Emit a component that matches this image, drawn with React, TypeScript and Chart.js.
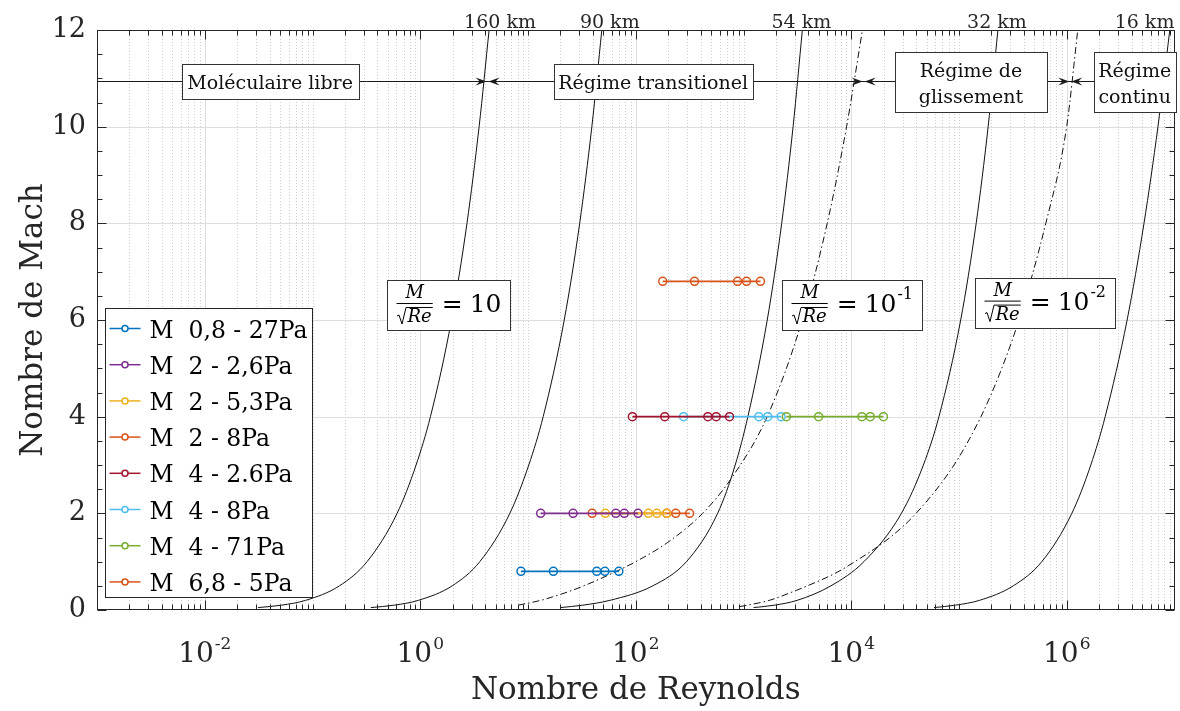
import React, { useEffect, useRef } from 'react';
import { Chart, registerables } from 'chart.js';

Chart.register(...registerables);

// ---------------- data ----------------
// Altitude curves (constant altitude): Mach levels and Reynolds numbers
const CURVE_MACH = [0.05, 0.1, 0.2, 0.5, 1, 2, 3, 4, 6, 8, 10, 12];
const RE_160KM = [0.03128, 0.05164, 0.0865, 0.1778, 0.3209, 0.6098, 0.9145, 1.243, 1.949, 2.713, 3.518, 4.355];
const RE_90KM = [0.348, 0.5743, 0.9624, 1.979, 3.571, 6.785, 10.17, 13.83, 21.69, 30.17, 39.14, 48.43];
const RE_54KM = [19.95, 32.3, 57.57, 143.9, 295.4, 575.6, 837.7, 1098, 1661, 2262, 2885, 3518];
const RE_32KM = [1240, 1945, 3149, 6475, 13110, 29220, 46710, 65150, 103700, 144300, 186400, 229700];
const RE_16KM = [58680, 92820, 155100, 318900, 586800, 1115000, 1672000, 2273000, 3633000, 5210000, 7021000, 9045000];
const ALTITUDE_LABELS = ['160 km', '90 km', '54 km', '32 km', '16 km'];
const ALTITUDE_LABEL_RE = [5.5, 57.4, 3443, 225000, 5270000];

// Dash-dot curves M/sqrt(Re) = 1e-1 and 1e-2
const RATIO_01_MACH = [0.1, 0.2, 0.27, 0.4, 0.5, 0.8, 1, 1.4, 2, 2.7, 4, 6, 8, 10, 12];
const RATIO_01_RE = [8.133, 13.16, 16.89, 25.23, 33.0, 66.14, 100, 198.3, 417.3, 758, 1658, 3511, 5984, 9049, 12700];
const RATIO_001_MACH = [0.07, 0.1, 0.2, 0.35, 0.5, 0.75, 1, 1.5, 2, 3, 4, 5, 6, 8, 10, 12];
const RATIO_001_RE = [918.3, 1089, 1741, 2667, 3914, 6960, 10800, 22870, 39980, 89880, 159800, 249600, 359400, 639100, 998000, 1265000];

// Test points
const SERIES_LABELS = ['M  0,8 - 27Pa', 'M  2 - 2,6Pa', 'M  2 - 5,3Pa', 'M  2 - 8Pa', 'M  4 - 2.6Pa', 'M  4 - 8Pa', 'M  4 - 71Pa', 'M  6,8 - 5Pa'];
const SERIES_MACH = [0.8, 2, 2, 2, 4, 4, 4, 6.8];
const RE_M08_27PA = [8.6, 17.2, 43.5, 51.7, 69.7];
const RE_M2_26PA = [13.1, 26.2, 65.3, 78.3, 105];
const RE_M2_53PA = [52.2, 131, 157, 193];
const RE_M2_8PA = [39.4, 194, 235, 316];
const RE_M4_26PA = [93.1, 186, 467, 558, 741];
const RE_M4_8PA = [278, 1387, 1679, 2234];
const RE_M4_71PA = [2500, 4980, 12560, 15000, 19900];
const RE_M68_5PA = [178, 351, 880, 1066, 1437];
const SERIES_RE = [RE_M08_27PA, RE_M2_26PA, RE_M2_53PA, RE_M2_8PA, RE_M4_26PA, RE_M4_8PA, RE_M4_71PA, RE_M68_5PA];
const SERIES_COLORS = ['#0072BD', '#7E2F8E', '#EDB120', '#D95319', '#A2142F', '#4DBEEE', '#77AC30', '#D95319'];
const SERIES_ORDER = [1, 2, 3, 4, 5, 6, 1, 1];

// Axes
const X_MIN_EXP = -3;
const X_MAX_EXP = 7;
const X_TICK_EXPONENTS = [-2, 0, 2, 4, 6];
const Y_MIN = 0;
const Y_MAX = 12;
const Y_TICK_STEP = 2;

// Annotations
const REGIME_TEXT = [['Moléculaire libre'], ['Régime transitionel'], ['Régime de', 'glissement'], ['Régime', 'continu']];
const REGIME_CENTER_RE = [0.0404, 145, 129000, 4270000];
const REGIME_LINE_MACH = 10.945;
const BOUNDARY_RE = [4.17, 12900, 1067000];
const FORMULA_EXPONENTS = ['', '-1', '-2'];
const FORMULA_LEFT_RE = [0.494, 2296, 140600];
const FORMULA_MACH = [6.31, 6.31, 6.36];

// ---------------- styles ----------------
const FONT = '"DejaVu Serif", serif';
const INK = '#262626';
const REGIME_BOX_W = [177, 199, 152, 82];
const REGIME_BOX_H = [35, 35, 60, 60];

const zip = (xs: number[], ys: number[]) => xs.map((v, i) => ({ x: v, y: ys[i] }));

function arrowHead(ctx: CanvasRenderingContext2D, tip: number, y: number, dir: number) {
  const L = 11, W = 4;
  ctx.beginPath();
  ctx.moveTo(tip, y);
  ctx.lineTo(tip - dir * L, y - W);
  ctx.lineTo(tip - dir * L * 0.62, y);
  ctx.lineTo(tip - dir * L, y + W);
  ctx.closePath();
  ctx.fill();
}

function formula(ctx: CanvasRenderingContext2D, left: number, cy: number, exp: string, draw: boolean) {
  const bar = cy - 2;
  const pad = 9;
  ctx.font = `italic 18px ${FONT}`;
  const reW = ctx.measureText('Re').width;
  const mW = ctx.measureText('M').width;
  const denW = 11 + reW + 1;
  const fx = left + pad;
  ctx.font = `25px ${FONT}`;
  const eqW = ctx.measureText('=').width;
  const tenW = ctx.measureText('10').width;
  ctx.font = `16px ${FONT}`;
  const expW = exp ? ctx.measureText(exp).width + 1 : 0;
  const total = pad + denW + 9 + eqW + 7 + tenW + expW + pad;
  if (!draw) return total;
  ctx.fillStyle = '#000';
  ctx.strokeStyle = '#000';
  ctx.font = `italic 18px ${FONT}`;
  ctx.textAlign = 'left';
  ctx.textBaseline = 'alphabetic';
  ctx.fillText('M', fx + (denW - mW) / 2, bar - 5);
  ctx.lineWidth = 1;
  ctx.beginPath();
  ctx.moveTo(fx, bar + 0.5);
  ctx.lineTo(fx + denW, bar + 0.5);
  ctx.stroke();
  ctx.beginPath();
  ctx.moveTo(fx + 0.5, bar + 13);
  ctx.lineTo(fx + 2.5, bar + 12);
  ctx.lineTo(fx + 5.5, bar + 21);
  ctx.lineTo(fx + 9.5, bar + 4.5);
  ctx.lineTo(fx + denW, bar + 4.5);
  ctx.stroke();
  ctx.fillText('Re', fx + 11, bar + 19);
  ctx.font = `25px ${FONT}`;
  let x = fx + denW + 9;
  ctx.fillText('=', x, bar + 9);
  x += eqW + 7;
  ctx.fillText('10', x, bar + 9);
  x += tenW;
  if (exp) {
    ctx.font = `16px ${FONT}`;
    ctx.fillText(exp, x + 1, bar - 4);
  }
  return total;
}

const gridPlugin = {
  id: 'bgGrid',
  beforeDatasetsDraw(chart: any) {
    const { ctx, chartArea: a, scales } = chart;
    const x = scales.x, y = scales.y;
    ctx.save();
    ctx.lineWidth = 1;
    ctx.strokeStyle = '#cdcdcd';
    ctx.setLineDash([1, 2]);
    for (let d = X_MIN_EXP; d < X_MAX_EXP; d++) {
      for (let k = 1; k <= 9; k++) {
        if (k === 1 && (d % 2 === 0 || d === X_MIN_EXP)) continue;
        const px = Math.round(x.getPixelForValue(k * Math.pow(10, d))) + 0.5;
        ctx.beginPath();
        ctx.moveTo(px, a.top);
        ctx.lineTo(px, a.bottom);
        ctx.stroke();
      }
    }
    ctx.setLineDash([]);
    ctx.strokeStyle = '#dedede';
    for (const e of X_TICK_EXPONENTS) {
      const px = Math.round(x.getPixelForValue(Math.pow(10, e))) + 0.5;
      ctx.beginPath();
      ctx.moveTo(px, a.top);
      ctx.lineTo(px, a.bottom);
      ctx.stroke();
    }
    for (let v = Y_MIN + Y_TICK_STEP; v < Y_MAX; v += Y_TICK_STEP) {
      const py = Math.round(y.getPixelForValue(v)) + 0.5;
      ctx.beginPath();
      ctx.moveTo(a.left, py);
      ctx.lineTo(a.right, py);
      ctx.stroke();
    }
    ctx.restore();
  },
};

const overlayPlugin = {
  id: 'overlay',
  afterDatasetsDraw(chart: any) {
    const { ctx, chartArea: a, scales } = chart;
    const x = scales.x, y = scales.y;
    ctx.save();

    // frame
    ctx.strokeStyle = INK;
    ctx.lineWidth = 1;
    const L = Math.round(a.left) + 0.5, R = Math.round(a.right) - 0.5;
    const T = Math.round(a.top) + 0.5, B = Math.round(a.bottom) - 0.5;
    ctx.strokeRect(L, T, R - L, B - T);

    // x ticks
    ctx.beginPath();
    for (let d = X_MIN_EXP; d < X_MAX_EXP; d++) {
      for (let k = 1; k <= 9; k++) {
        const px = Math.round(x.getPixelForValue(k * Math.pow(10, d))) + 0.5;
        const major = k === 1 && d % 2 === 0;
        const len = major ? 9 : 5;
        ctx.moveTo(px, B); ctx.lineTo(px, B - len);
        ctx.moveTo(px, T); ctx.lineTo(px, T + len);
      }
    }
    // y ticks
    for (let v = Y_MIN; v <= Y_MAX; v += 0.5) {
      const py = Math.round(y.getPixelForValue(v)) + 0.5;
      const len = v % Y_TICK_STEP === 0 ? 9 : 5;
      ctx.moveTo(L, py); ctx.lineTo(L + len, py);
      ctx.moveTo(R, py); ctx.lineTo(R - len, py);
    }
    ctx.stroke();

    // x tick labels 10^n
    ctx.fillStyle = INK;
    ctx.textBaseline = 'alphabetic';
    ctx.textAlign = 'left';
    for (const e of X_TICK_EXPONENTS) {
      const px = x.getPixelForValue(Math.pow(10, e));
      ctx.font = `28px ${FONT}`;
      const bw = ctx.measureText('10').width;
      ctx.font = `17px ${FONT}`;
      const es = String(e);
      const ew = ctx.measureText(es).width;
      const start = px - (bw + ew + 1) / 2;
      ctx.font = `28px ${FONT}`;
      ctx.fillText('10', start, a.bottom + 52);
      ctx.font = `17px ${FONT}`;
      ctx.fillText(es, start + bw + 1, a.bottom + 39);
    }

    // altitude labels
    ctx.font = `19px ${FONT}`;
    ctx.textAlign = 'center';
    ALTITUDE_LABELS.forEach((t, i) => {
      ctx.fillText(t, x.getPixelForValue(ALTITUDE_LABEL_RE[i]), a.top - 2);
    });

    // regime line + arrows
    const ly = Math.round(y.getPixelForValue(REGIME_LINE_MACH)) + 0.5;
    ctx.strokeStyle = '#1a1a1a';
    ctx.fillStyle = '#1a1a1a';
    ctx.beginPath();
    ctx.moveTo(a.left, ly);
    ctx.lineTo(a.right, ly);
    ctx.stroke();
    BOUNDARY_RE.forEach((re) => {
      const bx = x.getPixelForValue(re);
      arrowHead(ctx, bx - 0.5, ly, 1);
      arrowHead(ctx, bx + 1.5, ly, -1);
    });

    // regime boxes
    REGIME_TEXT.forEach((lines, i) => {
      const cx = x.getPixelForValue(REGIME_CENTER_RE[i]);
      const w = REGIME_BOX_W[i], h = REGIME_BOX_H[i];
      const bx = Math.round(cx - w / 2) + 0.5, by = Math.round(ly - h / 2) + 0.5;
      ctx.fillStyle = '#fff';
      ctx.fillRect(bx, by, w, h);
      ctx.strokeStyle = '#333';
      ctx.strokeRect(bx, by, w, h);
      ctx.fillStyle = '#111';
      ctx.font = `19px ${FONT}`;
      ctx.textAlign = 'center';
      if (lines.length === 1) {
        ctx.fillText(lines[0], cx, ly + 7);
      } else {
        ctx.fillText(lines[0], cx, ly - 5);
        ctx.fillText(lines[1], cx, ly + 21);
      }
    });

    // formula boxes
    FORMULA_EXPONENTS.forEach((exp, i) => {
      const left = Math.round(x.getPixelForValue(FORMULA_LEFT_RE[i])) + 0.5;
      const cy = y.getPixelForValue(FORMULA_MACH[i]);
      const w = Math.round(formula(ctx, left, cy, exp, false));
      const h = 50;
      const top = Math.round(cy - h / 2) + 0.5;
      ctx.fillStyle = '#fff';
      ctx.fillRect(left, top, w, h);
      ctx.strokeStyle = '#333';
      ctx.lineWidth = 1;
      ctx.strokeRect(left, top, w, h);
      formula(ctx, left, cy, exp, true);
    });

    // legend
    const lx = Math.round(a.left + 8) + 0.5;
    const lt = Math.round(a.top + 278) + 0.5;
    const lw = 207, lh = 289;
    ctx.fillStyle = '#fff';
    ctx.fillRect(lx, lt, lw, lh);
    ctx.strokeStyle = INK;
    ctx.lineWidth = 1;
    ctx.strokeRect(lx, lt, lw, lh);
    SERIES_LABELS.forEach((label, i) => {
      const ry = lt + 20 + i * 36.2;
      ctx.strokeStyle = SERIES_COLORS[i];
      ctx.lineWidth = 1.5;
      ctx.beginPath();
      ctx.moveTo(lx + 4, ry);
      ctx.lineTo(lx + 35, ry);
      ctx.stroke();
      ctx.fillStyle = '#fff';
      ctx.beginPath();
      ctx.arc(lx + 19.5, ry, 3, 0, Math.PI * 2);
      ctx.fill();
      ctx.stroke();
      ctx.fillStyle = '#000';
      ctx.font = `23.5px ${FONT}`;
      ctx.textAlign = 'left';
      ctx.fillText(label, lx + 44, ry + 9);
    });

    ctx.restore();
  },
};

export default function App() {
  const ref = useRef<HTMLCanvasElement>(null);
  useEffect(() => {
    const curveStyle = {
      showLine: true,
      pointRadius: 0,
      borderColor: '#111',
      borderWidth: 1,
      cubicInterpolationMode: 'monotone' as const,
      order: 20,
    };
    const datasets: any[] = [
      { ...curveStyle, label: '160 km', data: zip(RE_160KM, CURVE_MACH) },
      { ...curveStyle, label: '90 km', data: zip(RE_90KM, CURVE_MACH) },
      { ...curveStyle, label: '54 km', data: zip(RE_54KM, CURVE_MACH) },
      { ...curveStyle, label: '32 km', data: zip(RE_32KM, CURVE_MACH) },
      { ...curveStyle, label: '16 km', data: zip(RE_16KM, CURVE_MACH) },
      { ...curveStyle, label: 'M/sqrt(Re)=0.1', data: zip(RATIO_01_RE, RATIO_01_MACH), borderDash: [7, 3, 1.5, 3] },
      { ...curveStyle, label: 'M/sqrt(Re)=0.01', data: zip(RATIO_001_RE, RATIO_001_MACH), borderDash: [7, 3, 1.5, 3] },
      ...SERIES_LABELS.map((label, i) => ({
        label,
        data: SERIES_RE[i].map((re) => ({ x: re, y: SERIES_MACH[i] })),
        showLine: true,
        borderColor: SERIES_COLORS[i],
        backgroundColor: SERIES_COLORS[i],
        borderWidth: 1.6,
        pointRadius: 4,
        pointBorderWidth: 1.5,
        pointBackgroundColor: 'rgba(0,0,0,0)',
        pointBorderColor: SERIES_COLORS[i],
        pointStyle: 'circle',
        order: SERIES_ORDER[i],
      })),
    ];
    const chart = new Chart(ref.current as HTMLCanvasElement, {
      type: 'scatter',
      data: { datasets },
      options: {
        animation: false,
        responsive: false,
        events: [],
        layout: { padding: { top: 30, right: 4, left: 0, bottom: 0 } },
        plugins: { legend: { display: false }, tooltip: { enabled: false } },
        scales: {
          x: {
            type: 'logarithmic',
            min: Math.pow(10, X_MIN_EXP),
            max: Math.pow(10, X_MAX_EXP),
            grid: { display: false, drawTicks: false },
            border: { display: false },
            ticks: { display: false },
            title: {
              display: true,
              text: 'Nombre de Reynolds',
              color: INK,
              font: { family: FONT, size: 31 },
              padding: { top: 0, bottom: 1 },
            },
            afterFit: (s: any) => { s.height = 101; },
          },
          y: {
            type: 'linear',
            min: Y_MIN,
            max: Y_MAX,
            grid: { display: false, drawTicks: false },
            border: { display: false },
            ticks: {
              stepSize: Y_TICK_STEP,
              color: INK,
              font: { family: FONT, size: 27 },
              padding: 11,
            },
            title: {
              display: true,
              text: 'Nombre de Mach',
              color: INK,
              font: { family: FONT, size: 31 },
              padding: { top: 15, bottom: 0 },
            },
            afterFit: (s: any) => { s.width = 97; },
          },
        },
      } as any,
      plugins: [gridPlugin, overlayPlugin],
    });
    return () => chart.destroy();
  }, []);
  return (
    <div style={{ position: 'absolute', left: 0, top: 0, width: 1180, height: 711, background: '#fff' }}>
      <canvas ref={ref} width={1180} height={711} style={{ display: 'block', width: 1180, height: 711 }} />
    </div>
  );
}
